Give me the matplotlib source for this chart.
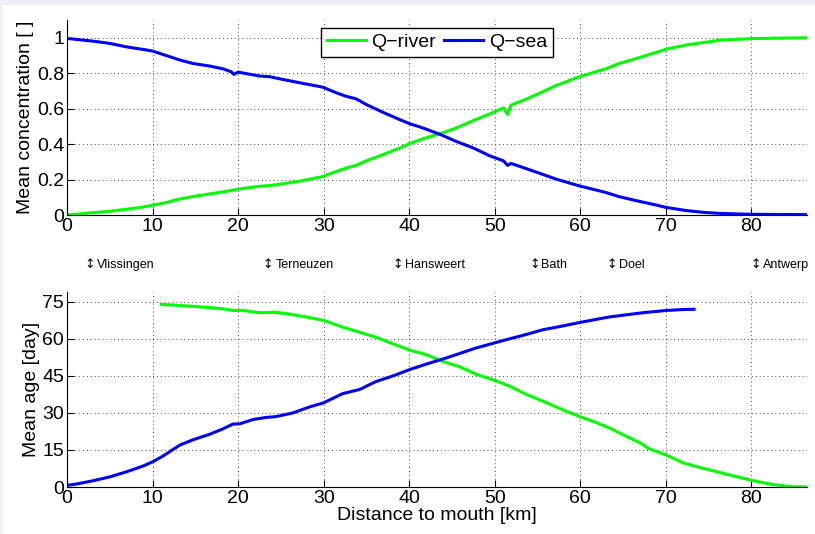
import matplotlib
matplotlib.use('Agg')
from matplotlib import pyplot as plt
from matplotlib.patches import Rectangle
from matplotlib.ticker import FuncFormatter

plt.rcParams['font.family'] = ['Liberation Sans', 'DejaVu Sans']

# distance to mouth [km] for the concentration curves
x_conc = [0, 3, 5, 6.9, 8.9, 10, 11.2, 13.2, 14.7, 16.7, 18.2, 19.2, 19.5, 20, 20.9,
          22.5, 23.7, 25.2, 27.2, 29.9, 31.5, 32.6, 33.8, 35, 36.9, 38.9, 40, 41.6,
          43.5, 45.5, 47.5, 49.4, 51, 51.5, 51.9, 53.3, 55.2, 57.2, 59.9, 63, 64.5,
          66.9, 68.8, 70, 72.4, 74.4, 76.3, 80, 86.4]
conc_river = [0, 0.013, 0.021, 0.032, 0.045, 0.055, 0.066, 0.09, 0.104, 0.119, 0.13,
              0.138, 0.141, 0.145, 0.152, 0.162, 0.166, 0.176, 0.191, 0.217, 0.246,
              0.264, 0.28, 0.306, 0.34, 0.378, 0.402, 0.43, 0.457, 0.491, 0.533, 0.57,
              0.604, 0.567, 0.62, 0.646, 0.686, 0.731, 0.78, 0.825, 0.854, 0.888,
              0.916, 0.935, 0.959, 0.973, 0.986, 0.995, 1.0]
conc_sea = [0.996, 0.981, 0.968, 0.949, 0.934, 0.925, 0.906, 0.874, 0.855, 0.84, 0.825,
            0.808, 0.793, 0.806, 0.798, 0.784, 0.78, 0.765, 0.746, 0.721, 0.689, 0.67,
            0.655, 0.623, 0.58, 0.538, 0.516, 0.491, 0.457, 0.415, 0.378, 0.334, 0.306,
            0.28, 0.291, 0.268, 0.236, 0.202, 0.164, 0.127, 0.104, 0.077, 0.057,
            0.043, 0.025, 0.015, 0.009, 0.004, 0.002]

# mean age [day]
x_age_sea = [0, 1.1, 3, 5, 6.9, 8.9, 10, 11.2, 13.2, 14.7, 16.7, 18.2, 19.4, 20.2, 21.7,
             23.3, 24.4, 26.4, 28.4, 30, 32.2, 34.2, 36.1, 38.1, 40, 42, 43.9, 45.9,
             47.8, 50, 51.7, 53.7, 55.6, 57.6, 60, 63.4, 67.3, 70, 72, 73.3]
age_sea = [0.7, 1.2, 2.5, 4.1, 6.1, 8.5, 10.2, 12.5, 17, 19.1, 21.4, 23.5, 25.5, 25.6,
           27.3, 28.2, 28.5, 30, 32.5, 34.1, 37.8, 39.5, 42.7, 45, 47.5, 49.8, 51.8,
           54.1, 56.3, 58.4, 60, 61.8, 63.7, 65, 66.7, 68.9, 70.6, 71.5, 71.9, 72.0]
x_age_river = [11, 12.8, 14.7, 16.7, 18.6, 19.4, 20.4, 22.5, 24.4, 26.4, 27.9, 30, 32.2,
               34.2, 36.1, 38.1, 40, 42, 43.9, 45.9, 47.8, 50, 51.7, 53.7, 55.6, 57.6,
               60, 61.5, 63.4, 65.4, 67.1, 67.9, 70, 72, 74, 77.1, 80, 82.5, 84.8, 86.4]
age_river = [74.0, 73.6, 73.2, 72.7, 72.0, 71.5, 71.6, 70.6, 70.8, 69.8, 68.9, 67.5,
             64.8, 62.7, 60.7, 58, 55.5, 53.6, 50.9, 48.7, 45.7, 43.2, 40.9, 37.5, 34.8,
             31.8, 28.4, 26.6, 23.9, 20.5, 17.7, 15.7, 13, 9.8, 7.9, 5.2, 2.7, 1, 0.1, 0]

stations = ['Vlissingen', 'Terneuzen', 'Hansweert', 'Bath', 'Doel', 'Antwerp']
station_km = [2.0, 22.9, 38.0, 54.0, 63.1, 79.9]


def style(ax):
    for s in ['top', 'right']:
        ax.spines[s].set_visible(False)
    ax.set_xlim(0, 86.5)
    ax.set_xticks(range(0, 81, 10))
    ax.tick_params(direction='in', length=5, labelsize=14, pad=2)
    ax.grid(True, linestyle=(0, (1, 3)), color='k', linewidth=0.7, alpha=0.7)


fig = plt.figure(figsize=(8.15, 5.34), dpi=100, facecolor='#eef0f6')
fig.patches.append(Rectangle((3 / 815, 0), 1, 1 - 5 / 534, transform=fig.transFigure,
                             facecolor='white', edgecolor='none', zorder=-1))

ax1 = fig.add_axes([67 / 815, 1 - 215 / 534, 740 / 815, 195 / 534])
ax1.plot(x_conc, conc_river, color=(0, 1, 0), lw=2.2, label='Q\u2212river')
ax1.plot(x_conc, conc_sea, color=(0, 0, 1), lw=2.2, label='Q\u2212sea')
style(ax1)
ax1.set_ylim(0, 1.1)
ax1.set_yticks([0, 0.2, 0.4, 0.6, 0.8, 1])
ax1.yaxis.set_major_formatter(FuncFormatter(lambda v, p: ('%g' % v)))
ax1.set_ylabel('Mean concentration [ ]', fontsize=14, labelpad=2)
leg = ax1.legend(loc='upper center', ncol=2, fontsize=14, fancybox=False,
                 framealpha=1, edgecolor='k', borderpad=0.3, borderaxespad=0.4,
                 handletextpad=0.3, columnspacing=0.4, handlelength=2.0)
leg.get_frame().set_linewidth(1.0)

# station markers below the upper panel
trans = ax1.get_xaxis_transform()
for name, km in zip(stations, station_km):
    ax1.text(km, -0.255, '\u2195', fontsize=9, family='DejaVu Sans',
             ha='left', va='center', transform=trans)
    ax1.annotate(name, (km, -0.255), xycoords=trans, xytext=(9, 0),
                 textcoords='offset points', fontsize=9, ha='left', va='center')

ax2 = fig.add_axes([67 / 815, 1 - 487 / 534, 740 / 815, 195 / 534])
ax2.plot(x_age_river, age_river, color=(0, 1, 0), lw=2.2)
ax2.plot(x_age_sea, age_sea, color=(0, 0, 1), lw=2.2)
style(ax2)
ax2.set_ylim(0, 79)
ax2.set_yticks(range(0, 76, 15))
ax2.set_ylabel('Mean age [day]', fontsize=14, labelpad=2)
ax2.set_xlabel('Distance to mouth [km]', fontsize=14, labelpad=0)

fig.savefig('out.png', dpi=100, facecolor=fig.get_facecolor())
